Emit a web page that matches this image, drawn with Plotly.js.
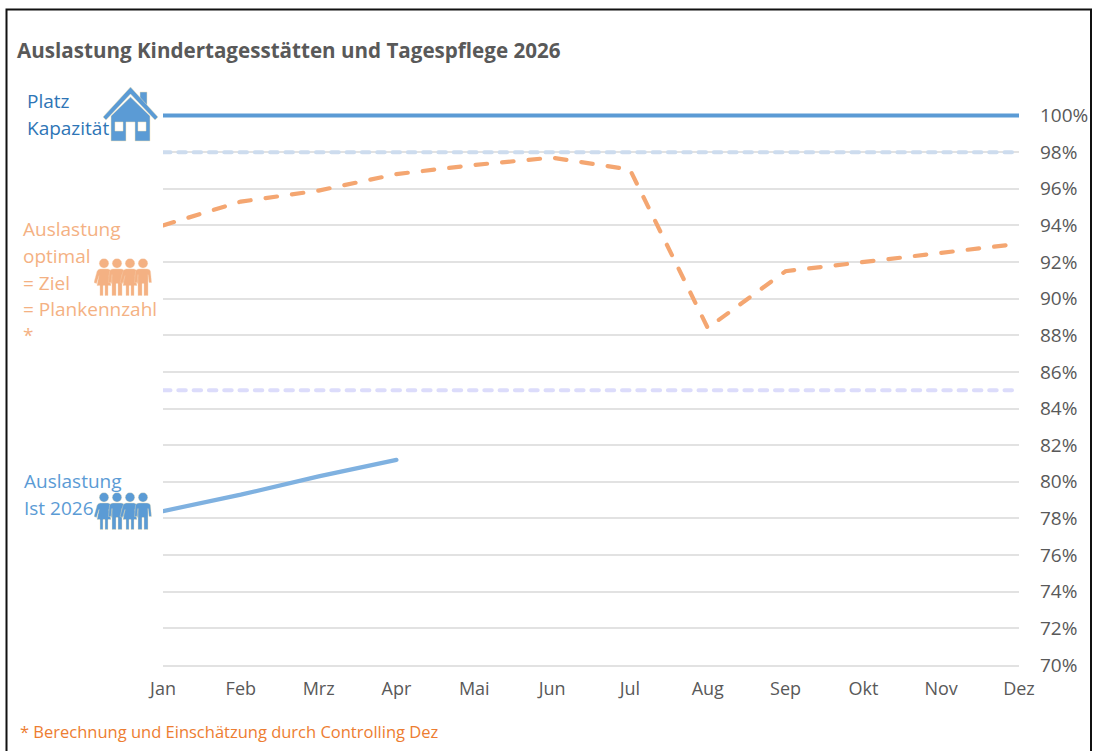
<!DOCTYPE html>
<html>
<head>
<meta charset="utf-8">
<script src="https://cdn.plot.ly/plotly-3.0.1.min.js"></script>
<style>html,body{margin:0;padding:0;background:#fff;overflow:hidden}#c{width:1093px;height:751px}
.js-line{stroke-linecap:round}</style>
</head>
<body>
<div id="c"></div>
<script>
const W = 1093, H = 751;
const months = ['Jan','Feb','Mrz','Apr','Mai','Jun','Jul','Aug','Sep','Okt','Nov','Dez'];
const capacity = [100,100,100,100,100,100,100,100,100,100,100,100];
const upper = [98,98,98,98,98,98,98,98,98,98,98,98];
const lower = [85,85,85,85,85,85,85,85,85,85,85,85];
const optimal = [94.0,95.3,95.9,96.8,97.3,97.7,97.05,88.4,91.5,92.0,92.5,93.0];
const actual = [78.4,79.3,80.3,81.2];
const yTicks = [70,72,74,76,78,80,82,84,86,88,90,92,94,96,98,100];

const FONT = '"Open Sans", "Noto Sans", sans-serif';
const GREY = '#595959', BLUE = '#5b9bd5', ORANGE = '#f4b183';

const px = v => v / W, py = v => 1 - v / H;

function line(y, color, width, dash, xs) {
  return {x: xs || months, y, type:'scatter', mode:'lines', cliponaxis:false, hoverinfo:'skip',
          line:{color, width, dash: dash || 'solid', shape:'linear'}};
}
const traces = [
  line(capacity, BLUE, 4),
  line(upper, '#cddcee', 4, '7.5px,7.8px'),
  line(lower, '#dcdcfb', 4, '7.5px,7.8px'),
  line(optimal, '#f4a671', 4.2, '11.5px,15.1px'),
  line(actual, '#7fb1e0', 4.2, null, months.slice(0, 4))
];

function label(text, x, y, color, size, bold) {
  return {text: bold ? '<b>'+text+'</b>' : text, xref:'paper', yref:'paper', x:px(x - 2), y:py(y),
          xanchor:'left', yanchor:'middle', showarrow:false, align:'left',
          font:{family:FONT, size, color}};
}
const annotations = [
  label('Auslastung Kindertagesstätten und Tagespflege 2026', 17, 50, GREY, 20.6, true),
  label('Platz', 27, 101, '#2e75b6', 19),
  label('Kapazität', 27, 128, '#2e75b6', 19),
  label('Auslastung', 23, 229, ORANGE, 19),
  label('optimal', 23, 256, ORANGE, 19),
  label('= Ziel', 23, 283, ORANGE, 19),
  label('= Plankennzahl', 23, 309, ORANGE, 19),
  label('*', 23, 335, ORANGE, 19),
  label('Auslastung', 24, 481, BLUE, 19),
  label('Ist 2026', 24, 508, BLUE, 19),
  label('* Berechnung und Einschätzung durch Controlling Dez', 20, 731, '#ed7d31', 16.5)
];

function svgUri(w, h, body) {
  return 'data:image/svg+xml;charset=utf-8,' + encodeURIComponent(
    '<svg xmlns="http://www.w3.org/2000/svg" width="'+w+'" height="'+h+'" viewBox="0 0 '+w+' '+h+'">'+body+'</svg>');
}
const womanPath = 'M-4,10.5 L4,10.5 Q6,10.5 7,13 L10,24 L7.5,25 L5,17 L7,27 L4,27 L4,37 L1,37 L1,27 L-1,27 L-1,37 L-4,37 L-4,27 L-7,27 L-5,17 L-7.5,25 L-10,24 L-7,13 Q-6,10.5 -4,10.5Z';
const manPath = 'M-4,10.5 L4,10.5 Q7,10.5 7.5,13 L8.5,24 L6,24 L5,16 L5,37 L1,37 L1,25 L-1,25 L-1,37 L-5,37 L-5,16 L-6,24 L-8.5,24 L-7.5,13 Q-7,10.5 -4,10.5Z';
function people(color, outline) {
  let s = '';
  [10,23,36,49].forEach((cx, i) => {
    s += '<g transform="translate('+cx+',0)" fill="'+color+'" stroke="'+outline+'" stroke-width="0.4">'+
         '<circle cx="0" cy="4.8" r="4.7"/><path d="'+(i % 2 ? manPath : womanPath)+'"/></g>';
  });
  return svgUri(59, 38, s);
}
const house = svgUri(56, 56,
  '<g stroke="#f3e3b5" stroke-width="0.5">'+
  '<path fill="#5b9bd5" d="M37,5 L44,5 L44,19 L37,13Z"/>'+
  '<path fill="#5b9bd5" d="M0,30 L27.5,0 L55,30 L52,33 L27.5,7 L3,33Z"/>'+
  '<path fill="#5b9bd5" fill-rule="evenodd" d="M8,29 L27.5,10 L47,29 L47,54 L32,54 L32,35 L23,35 L23,54 L8,54Z M12,35 L12,44 L20,44 L20,35Z M35,35 L35,44 L43,44 L43,35Z"/>'+
  '</g>');
function image(source, x, y, w, h) {
  return {source, xref:'paper', yref:'paper', x:px(x), y:py(y), sizex:w/W, sizey:h/H,
          xanchor:'left', yanchor:'top', sizing:'stretch', layer:'above'};
}
const images = [
  image(house, 103, 87, 56, 56),
  image(people('#f4b183', '#f8cfae'), 94, 258.5, 59, 38),
  image(people('#5b9bd5', '#f3e3b5'), 94, 492.5, 59, 38)
];

const TOP = 100.5;
const layout = {
  width: W, height: H,
  margin:{l:0, r:0, t:0, b:0},
  paper_bgcolor:'#fff', plot_bgcolor:'#fff',
  showlegend:false,
  font:{family:FONT, color:GREY, size:18},
  xaxis:{domain:[px(163), px(1019)], type:'category', range:[0,11], categoryorder:'array', categoryarray:months,
         showgrid:false, zeroline:false, showline:true, linecolor:'#e2e2e2', linewidth:2, ticks:'',
         tickfont:{family:FONT, size:18, color:GREY}, ticklabelstandoff:6, fixedrange:true},
  yaxis:{domain:[py(665), py(115.5 - (TOP - 100) * 18.3)], range:[70,TOP], side:'right', tickmode:'array', tickvals:yTicks,
         ticktext:yTicks.map(v => v + '%'), showgrid:true, gridcolor:'#e2e2e2', gridwidth:2,
         zeroline:false, showline:false, ticks:'', ticklabelstandoff:20,
         tickfont:{family:FONT, size:19, color:GREY}, fixedrange:true},
  annotations, images,
  shapes:[{type:'rect', xref:'paper', yref:'paper', x0:px(6.5), x1:px(1091), y0:py(9.5), y1:py(760),
           line:{color:'#111', width:2}, fillcolor:'rgba(0,0,0,0)', layer:'above'}]
};
Plotly.newPlot('c', traces, layout, {displayModeBar:false, staticPlot:true});
</script>
</body>
</html>
